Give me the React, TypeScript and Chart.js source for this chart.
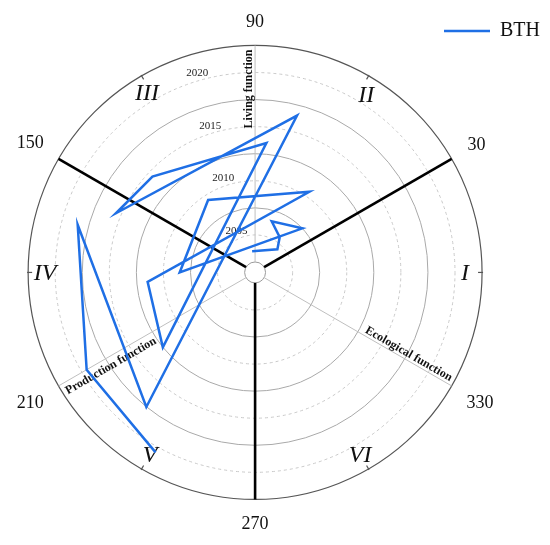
import React, { useEffect, useRef } from 'react';
import { Chart, registerables } from 'chart.js';

Chart.register(...registerables);

// ---------- data ----------
const seriesLabel = 'BTH';
const years = [2001, 2002, 2003, 2004, 2005, 2006, 2007, 2008, 2009, 2010, 2011, 2012, 2013, 2014, 2015, 2016, 2017, 2018];
const angles = [98, 46, 55, 72, 43, 180, 123, 56, 185, 219, 85, 137, 157, 75, 231, 165, 210, 241];

const YEAR_START = 2000;
const YEAR_END = 2020;
const yearTicks = [2005, 2010, 2015, 2020];
const minorYearTicks = [2002.5, 2007.5, 2012.5, 2017.5];

const angleTickValues = [30, 90, 150, 210, 270, 330];
const angleTickLabels = ['30', '90', '150', '210', '270', '330'];

const sectorLabels = ['I', 'II', 'III', 'IV', 'V', 'VI'];
const sectorAngles = [0, 58, 121, 180, 240, 300];

const functionLabels = ['Living function', 'Production function', 'Ecological function'];
const functionAngles = [90, 210, 330];
const boundaryAngles = [30, 150, 270];

// ---------- layout (pixels) ----------
const W = 550;
const H = 545;
const CX = 255;
const CY = 273;
const R_OUT = 228;
const R_HOLE = 10.5;
const K = (R_OUT - R_HOLE) / (YEAR_END - YEAR_START); // px per year
const HOLE = R_HOLE / K; // hole size in year units

const SERIF = '"Liberation Serif", "Times New Roman", serif';
const BLUE = '#1f6fe5';

const rad = (d: number) => (d * Math.PI) / 180;

const polarPlugin = {
  id: 'polarGrid',
  beforeDatasetsDraw(chart: any) {
    const { ctx } = chart;
    const xs = chart.scales.x;
    const ys = chart.scales.y;
    const cx = xs.getPixelForValue(0);
    const cy = ys.getPixelForValue(0);
    const rOf = (yr: number) => xs.getPixelForValue(yr - YEAR_START + HOLE) - cx;
    const rHole = rOf(YEAR_START);
    const rOut = rOf(YEAR_END);
    const pt = (r: number, deg: number) => [cx + r * Math.cos(rad(deg)), cy - r * Math.sin(rad(deg))];

    ctx.save();
    // dashed minor circles
    ctx.setLineDash([3, 3]);
    ctx.strokeStyle = '#c9c9c9';
    ctx.lineWidth = 1;
    minorYearTicks.forEach((yr) => {
      ctx.beginPath();
      ctx.arc(cx, cy, rOf(yr), 0, Math.PI * 2);
      ctx.stroke();
    });
    ctx.setLineDash([]);
    // solid circles
    ctx.strokeStyle = '#a9a9a9';
    yearTicks.slice(0, -1).forEach((yr) => {
      ctx.beginPath();
      ctx.arc(cx, cy, rOf(yr), 0, Math.PI * 2);
      ctx.stroke();
    });
    // outer circle
    ctx.strokeStyle = '#555';
    ctx.lineWidth = 1.2;
    ctx.beginPath();
    ctx.arc(cx, cy, rOut, 0, Math.PI * 2);
    ctx.stroke();
    // ticks
    sectorAngles.forEach((_, i) => {
      const a = i * 60;
      const [x1, y1] = pt(rOut - 4, a);
      const [x2, y2] = pt(rOut + 1, a);
      ctx.beginPath();
      ctx.moveTo(x1, y1);
      ctx.lineTo(x2, y2);
      ctx.stroke();
    });
    // hole
    ctx.strokeStyle = '#9a9a9a';
    ctx.lineWidth = 1;
    ctx.beginPath();
    ctx.arc(cx, cy, rHole, 0, Math.PI * 2);
    ctx.stroke();
    // thin function axes
    ctx.strokeStyle = '#bfbfbf';
    functionAngles.forEach((a) => {
      const [x1, y1] = pt(rHole, a);
      const [x2, y2] = pt(rOut, a);
      ctx.beginPath();
      ctx.moveTo(x1, y1);
      ctx.lineTo(x2, y2);
      ctx.stroke();
    });
    // thick boundaries
    ctx.strokeStyle = '#000';
    ctx.lineWidth = 2.6;
    boundaryAngles.forEach((a) => {
      const [x1, y1] = pt(rHole, a);
      const [x2, y2] = pt(rOut, a);
      ctx.beginPath();
      ctx.moveTo(x1, y1);
      ctx.lineTo(x2, y2);
      ctx.stroke();
    });

    // year labels
    ctx.fillStyle = '#222';
    ctx.font = `11px ${SERIF}`;
    ctx.textAlign = 'center';
    ctx.textBaseline = 'middle';
    yearTicks.forEach((yr) => {
      const [x, y] = pt(rOf(yr), 104);
      ctx.fillText(String(yr), x - 3, y + 21);
    });

    // angle labels
    ctx.fillStyle = '#111';
    ctx.font = `18px ${SERIF}`;
    angleTickValues.forEach((a, i) => {
      const txt = angleTickLabels[i];
      const w = ctx.measureText(txt).width;
      const h = 12;
      const c = Math.cos(rad(a));
      const s = Math.sin(rad(a));
      const r = rOut + 18 + Math.abs(c) * w / 2 + Math.abs(s) * h / 2;
      const [x, y] = pt(r, a);
      ctx.fillText(txt, x, y + 1);
    });

    // sector labels
    ctx.font = `italic 24px ${SERIF}`;
    sectorLabels.forEach((txt, i) => {
      const [x, y] = pt(rOut - 17, sectorAngles[i]);
      ctx.fillText(txt, x, y + 1);
    });

    // function labels
    ctx.font = `bold 12px ${SERIF}`;
    ctx.fillStyle = '#111';
    functionLabels.forEach((txt, i) => {
      const a = functionAngles[i];
      const [x, y] = pt(rOut - 4, a);
      ctx.save();
      ctx.translate(x, y);
      if (a === 90) {
        ctx.rotate(-Math.PI / 2);
        ctx.textAlign = 'right';
        ctx.textBaseline = 'alphabetic';
        ctx.fillText(txt, 0, -3);
      } else if (a === 330) {
        ctx.rotate(Math.PI / 6);
        ctx.textAlign = 'right';
        ctx.textBaseline = 'alphabetic';
        ctx.fillText(txt, 0, -3);
      } else {
        ctx.rotate(-Math.PI / 6);
        ctx.textAlign = 'left';
        ctx.textBaseline = 'top';
        ctx.fillText(txt, 0, 3);
      }
      ctx.restore();
    });
    ctx.restore();
  },
};

export default function App() {
  const ref = useRef<HTMLCanvasElement | null>(null);

  useEffect(() => {
    if (!ref.current) return;
    const points = years.map((yr, i) => {
      const r = yr - YEAR_START + HOLE;
      return { x: r * Math.cos(rad(angles[i])), y: r * Math.sin(rad(angles[i])) };
    });
    const chart = new Chart(ref.current, {
      type: 'scatter',
      data: {
        datasets: [
          {
            label: seriesLabel,
            data: points,
            showLine: true,
            borderColor: BLUE,
            backgroundColor: BLUE,
            borderWidth: 2.5,
            pointRadius: 0,
            pointHoverRadius: 0,
            tension: 0,
            fill: false,
          },
        ],
      },
      options: {
        animation: false,
        responsive: false,
        maintainAspectRatio: false,
        events: [],
        layout: { padding: { top: 11, left: 0, right: 0, bottom: 0 } },
        scales: {
          x: { type: 'linear', display: false, bounds: 'data', min: -CX / K, max: (W - CX) / K },
          y: { type: 'linear', display: false, bounds: 'data', min: -(H - CY) / K, max: CY / K },
        },
        plugins: {
          tooltip: { enabled: false },
          legend: {
            position: 'top',
            align: 'end',
            labels: {
              usePointStyle: true,
              pointStyle: 'line',
              pointStyleWidth: 46,
              color: '#111',
              font: { family: SERIF, size: 20 },
              padding: 10,
            },
          },
        },
      },
      plugins: [polarPlugin],
    } as any);
    const ca = chart.chartArea;
    const o: any = chart.options.scales;
    o.x.min = (ca.left - CX) / K;
    o.x.max = (ca.right - CX) / K;
    o.y.max = (CY - ca.top) / K;
    o.y.min = (CY - ca.bottom) / K;
    chart.update('none');
    return () => chart.destroy();
  }, []);

  return (
    <div style={{ position: 'absolute', left: 0, top: 0, width: W, height: H, background: '#fff' }}>
      <canvas ref={ref} width={W} height={H} style={{ display: 'block' }} />
    </div>
  );
}
